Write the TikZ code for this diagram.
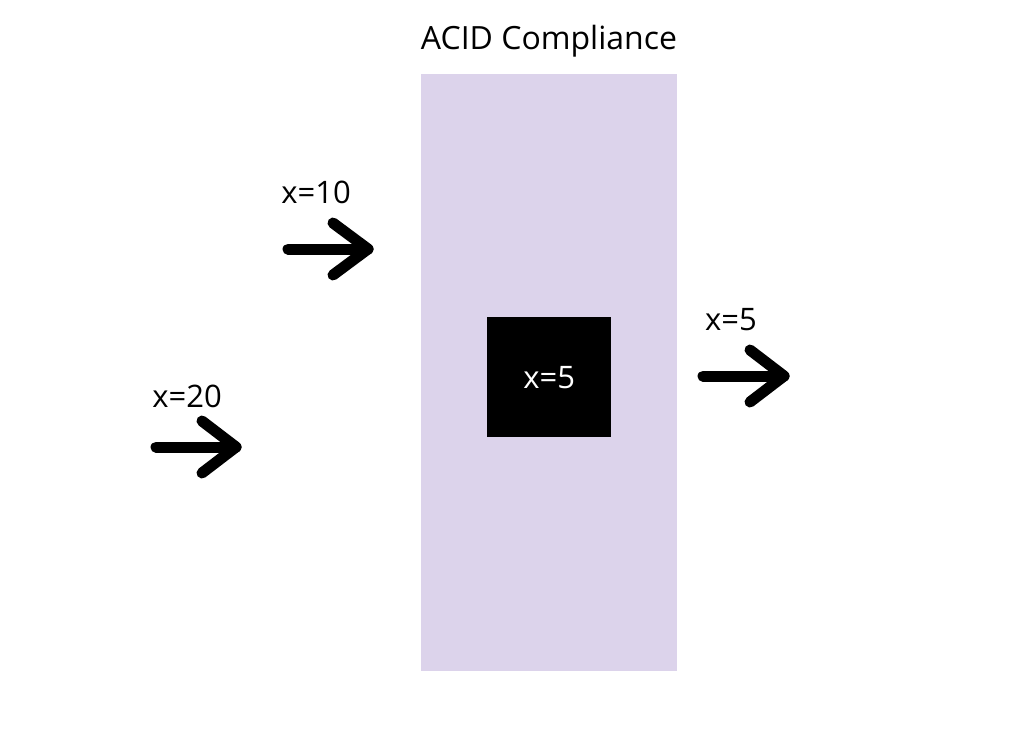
\documentclass[tikz,border=0pt]{standalone}
\usepackage{fontspec}
\setmainfont{Open Sans}
\definecolor{lav}{HTML}{DCD3EB}
\begin{document}
\begin{tikzpicture}[x=1pt,y=-1pt,
  lbl/.style={font=\fontsize{31}{34}\selectfont, inner sep=0pt, anchor=center},
  fatarrow/.style={line width=11pt, line cap=round, line join=round, black}]
\useasboundingbox[fill=white] (0,0) rectangle (1024,747);
\fill[lav] (421,74) rectangle (677,671);
\node[lbl, font=\fontsize{32}{35}\selectfont] (title) at (549,41) {ACID Compliance};
\node[fill=black, minimum width=124pt, minimum height=120pt, inner sep=0pt, anchor=north west] (box) at (487,317) {};
\node[lbl, text=white] (boxlbl) at (box.center) {x=5};
% arrow 1
\coordinate (a1s) at (288,249); \coordinate (a1e) at (368,249);
\draw[fatarrow] (a1s) -- (a1e);
\draw[fatarrow] (333,223) -- (a1e) -- (333,275);
\node[lbl] (l1) at (316,192) {x=10};
% arrow 2
\coordinate (a2s) at (156,447); \coordinate (a2e) at (236,447);
\draw[fatarrow] (a2s) -- (a2e);
\draw[fatarrow] (202,421) -- (a2e) -- (202,473);
\node[lbl] (l2) at (187,396) {x=20};
% arrow 3
\coordinate (a3s) at (703,376); \coordinate (a3e) at (784,376);
\draw[fatarrow] (a3s) -- (a3e);
\draw[fatarrow] (750,350) -- (a3e) -- (750,402);
\node[lbl] (l3) at (731,320) {x=5};
\end{tikzpicture}
\end{document}
